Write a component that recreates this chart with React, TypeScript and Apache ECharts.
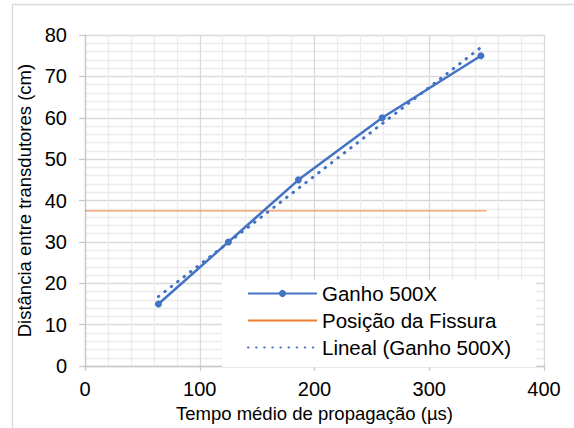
import React, { useEffect, useRef } from "react";
import * as echarts from "echarts";

// Mean propagation time (µs) and transducer spacing (cm), gain 500X
const timeUs = [64, 125, 186, 259, 345];
const distanceCm = [15, 30, 45, 60, 75];

// Crack position marker (horizontal reference)
const fissureX = [0, 350];
const fissureY = [37.5, 37.5];

// Linear trendline end points for the 500X series
const trendX = [64, 345];
const trendY = [16.8, 77.0];

const xTicks = [0, 100, 200, 300, 400];
const yTicks = [0, 10, 20, 30, 40, 50, 60, 70, 80];

const seriesNames = ["Ganho 500X", "Posição da Fissura", "Lineal (Ganho 500X)"];

const FONT = "'Liberation Sans', Arial, sans-serif";
const BLUE = "#4472C4";
const ORANGE = "#ED7D31";

export default function App() {
  const ref = useRef<HTMLDivElement>(null);

  useEffect(() => {
    if (!ref.current) return;
    const chart = echarts.init(ref.current, undefined, { renderer: "svg" });

    const pairs = (xs: number[], ys: number[]) => xs.map((x, i) => [x, ys[i]]);

    chart.setOption({
      animation: false,
      backgroundColor: "#ffffff",
      textStyle: { fontFamily: FONT },
      graphic: [
        {
          type: "rect",
          shape: { x: 12.5, y: 4.5, width: 600, height: 480 },
          style: { fill: "none", stroke: "#D9D9D9", lineWidth: 1.3 },
          z: -1,
        },
      ],
      grid: { left: 85, top: 35, width: 459, height: 333 },
      xAxis: {
        type: "value",
        min: xTicks[0],
        max: xTicks[xTicks.length - 1],
        interval: 100,
        name: "Tempo médio de propagação (µs)",
        nameLocation: "middle",
        nameGap: 36,
        nameTextStyle: { fontSize: 18.5, color: "#000", fontFamily: FONT },
        axisLine: { show: true, lineStyle: { color: "#C8C8C8", width: 1.3 } },
        axisTick: { show: true, length: 5, lineStyle: { color: "#C8C8C8", width: 1.3 } },
        axisLabel: { fontSize: 20, color: "#000", margin: 13, fontFamily: FONT },
        splitLine: { show: true, lineStyle: { color: "#D9D9D9", width: 1.3 } },
        minorTick: { show: false, splitNumber: 5 },
        minorSplitLine: { show: true, lineStyle: { color: "#ECECEC", width: 1.3 } },
      },
      yAxis: {
        type: "value",
        min: yTicks[0],
        max: yTicks[yTicks.length - 1],
        interval: 10,
        name: "Distância entre transdutores (cm)",
        nameLocation: "middle",
        nameGap: 49,
        nameTextStyle: { fontSize: 18.5, color: "#000", fontFamily: FONT },
        axisLine: { show: true, lineStyle: { color: "#C8C8C8", width: 1.3 } },
        axisTick: { show: true, length: 6, lineStyle: { color: "#C8C8C8", width: 1.3 } },
        axisLabel: { fontSize: 20, color: "#000", margin: 18, fontFamily: FONT },
        splitLine: { show: true, lineStyle: { color: "#D9D9D9", width: 1.3 } },
        minorTick: { show: false, splitNumber: 5 },
        minorSplitLine: { show: true, lineStyle: { color: "#ECECEC", width: 1.3 } },
      },
      legend: {
        orient: "vertical",
        left: 222,
        top: 280,
        padding: [0, 25, 6, 25],
        backgroundColor: "#ffffff",
        itemWidth: 69,
        itemHeight: 9,
        itemGap: 0,
        textStyle: { fontSize: 20.5, color: "#000", lineHeight: 27, fontFamily: FONT },
        data: [
          { name: seriesNames[0] },
          { name: seriesNames[1], itemStyle: { opacity: 0 } },
          { name: seriesNames[2], itemStyle: { opacity: 0 } },
        ],
      },
      series: [
        {
          name: seriesNames[0],
          type: "line",
          data: pairs(timeUs, distanceCm),
          symbol: "circle",
          symbolSize: 7,
          itemStyle: { color: BLUE },
          lineStyle: { color: BLUE, width: 2.5 },
          z: 4,
        },
        {
          name: seriesNames[1],
          type: "line",
          data: pairs(fissureX, fissureY),
          symbol: "none",
          itemStyle: { color: ORANGE },
          lineStyle: { color: ORANGE, width: 1 },
          z: 3,
        },
        {
          name: seriesNames[2],
          type: "line",
          data: pairs(trendX, trendY),
          symbol: "none",
          itemStyle: { color: BLUE },
          lineStyle: { color: BLUE, width: 3, type: [0.5, 7.6], cap: "round" },
          z: 3,
        },
      ],
    });

    return () => chart.dispose();
  }, []);

  return (
    <div
      ref={ref}
      style={{ position: "fixed", left: 0, top: 0, width: 574, height: 428 }}
    />
  );
}
